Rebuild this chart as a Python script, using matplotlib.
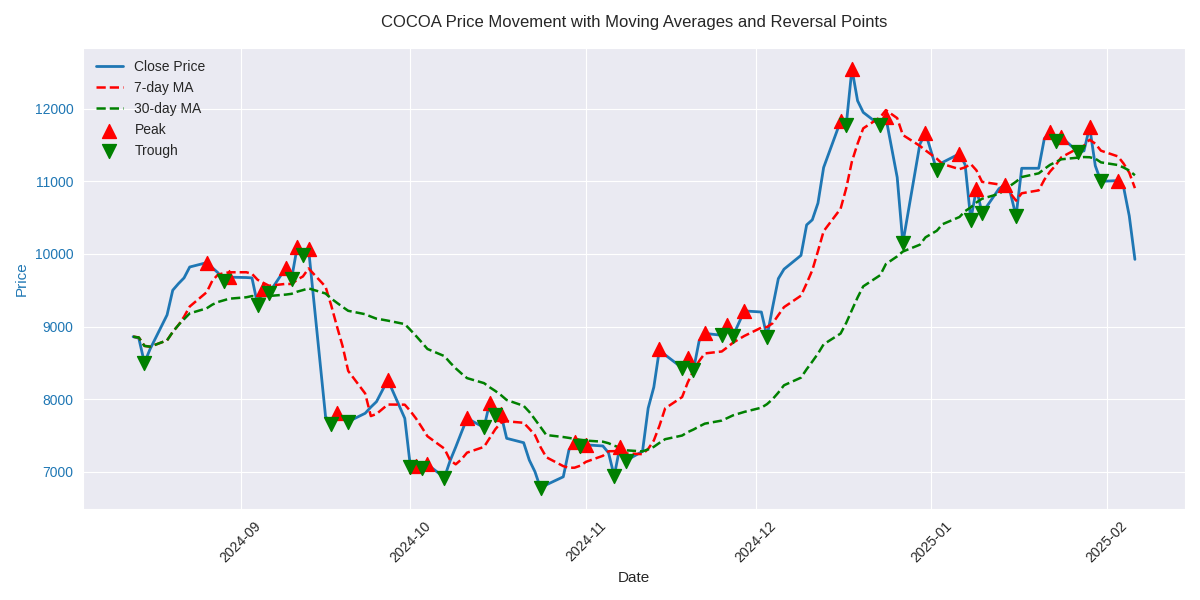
import pandas as pd
import numpy as np
import matplotlib
matplotlib.use("Agg")
import matplotlib.pyplot as plt
import seaborn as sns

# 收盘价（按交易日读取，感恩节、圣诞、元旦休市）
holidays = ["2024-11-28", "2024-12-25", "2025-01-01"]
dates = pd.bdate_range("2024-08-13", "2025-02-06", freq="C", holidays=holidays)

close = [
    8860, 8840, 8500, 8690,                 # Aug 13-16
    9160, 9500, 9590, 9670, 9820,           # Aug 19-23
    9880, 9810, 9740, 9630, 9680,           # Aug 26-30
    9675, 9670, 9300, 9520, 9460,           # Sep 2-6
    9810, 9660, 10100, 9980, 10070,         # Sep 9-13
    7760, 7660, 7810, 7750, 7690,           # Sep 16-20
    7805, 7890, 7965, 8115, 8265,           # Sep 23-27
    7735, 7065, 7085, 7055, 7100,           # Sep 30-Oct 4
    6920, 7150, 7340, 7540, 7735,           # Oct 7-11
    7610, 7950, 7775, 7790, 7460,           # Oct 14-18
    7400, 7160, 7000, 6770, 6820,           # Oct 21-25
    6930, 7300, 7410, 7350, 7370,           # Oct 28-Nov 1
    7355, 7260, 6940, 7340, 7150,           # Nov 4-8
    7280, 7875, 8165, 8690, 8610,           # Nov 11-15
    8430, 8570, 8400, 8800, 8905,           # Nov 18-22
    8880, 9020, 8875, 9215,                 # Nov 25-29
    9200, 8860, 9270, 9660, 9790,           # Dec 2-6
    9980, 10400, 10470, 10700, 11190,       # Dec 9-13
    11830, 11780, 12550, 12110, 11950,      # Dec 16-20
    11770, 11880, 11055, 10150,             # Dec 23-27
    11510, 11670, 11150, 11260,             # Dec 30-Jan 3
    11380, 11230, 10470, 10900, 10560,      # Jan 6-10
    10900, 10950, 10840, 10520, 11180,      # Jan 13-17
    11180, 11590, 11680, 11560, 11610,      # Jan 20-24
    11400, 11420, 11750, 11215, 11000,      # Jan 27-31
    11010, 10920, 10525, 9925,              # Feb 3-6
]

df = pd.DataFrame({"Close": close}, index=dates)
df["MA7"] = df["Close"].rolling(7, min_periods=1).mean()
df["MA30"] = df["Close"].rolling(30, min_periods=1).mean()

# 反转点：比前后都高/低
prev_c = df["Close"].shift(1)
next_c = df["Close"].shift(-1)
peaks = df[(df["Close"] > prev_c) & (df["Close"] > next_c)]
troughs = df[(df["Close"] < prev_c) & (df["Close"] < next_c)]

sns.set_style("darkgrid")
plt.rcParams["font.family"] = ["Liberation Sans", "DejaVu Sans"]

fig, ax = plt.subplots(figsize=(12, 6), dpi=100)
ax.plot(df.index, df["Close"], color="tab:blue", linewidth=2, label="Close Price")
ax.plot(df.index, df["MA7"], "r--", linewidth=1.8, label="7-day MA")
ax.plot(df.index, df["MA30"], "g--", linewidth=1.8, label="30-day MA")
ax.scatter(peaks.index, peaks["Close"], marker="^", color="red", s=100, label="Peak", zorder=3)
ax.scatter(troughs.index, troughs["Close"], marker="v", color="green", s=100, label="Trough", zorder=3)

ax.set_title("COCOA Price Movement with Moving Averages and Reversal Points", fontsize=12, pad=15)
ax.set_xlabel("Date", fontsize=11)
ax.set_ylabel("Price", color="tab:blue", fontsize=11)
ax.tick_params(axis="y", labelcolor="tab:blue")
plt.setp(ax.get_xticklabels(), rotation=45)
ax.legend(loc="upper left", frameon=False)

plt.tight_layout()
plt.savefig("out.png")
